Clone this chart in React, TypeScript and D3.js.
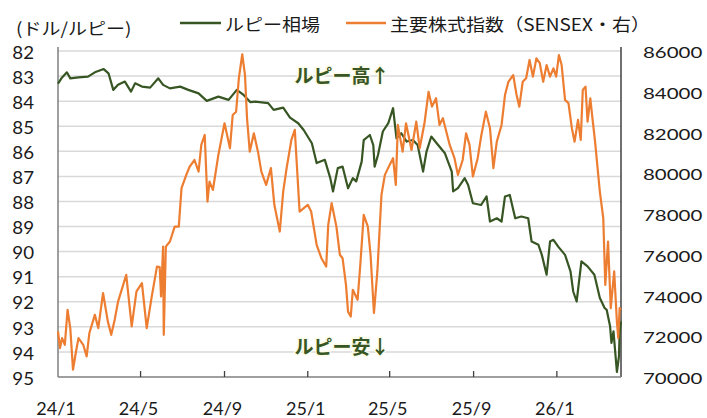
import React, { useEffect, useRef } from 'react';
import * as d3 from 'd3';

// ルピー相場 (ドル/ルピー, left axis, inverted)
const rupeeDates = [
  '2024-01-01', '2024-01-06', '2024-01-14', '2024-01-19', '2024-01-31', '2024-02-14', '2024-02-24',
  '2024-03-08', '2024-03-15', '2024-03-22', '2024-03-29', '2024-04-08', '2024-04-17', '2024-04-23',
  '2024-05-03', '2024-05-15', '2024-05-27', '2024-06-03', '2024-06-13', '2024-06-28', '2024-07-10',
  '2024-07-25', '2024-08-06', '2024-08-23', '2024-09-07', '2024-09-19', '2024-09-29', '2024-10-09',
  '2024-10-16', '2024-11-04', '2024-11-12', '2024-11-26', '2024-12-06', '2024-12-18', '2024-12-26',
  '2025-01-07', '2025-01-14', '2025-01-26', '2025-02-03', '2025-02-07', '2025-02-14', '2025-02-21',
  '2025-03-01', '2025-03-08', '2025-03-13', '2025-03-21', '2025-03-24', '2025-04-02', '2025-04-07',
  '2025-04-09', '2025-04-14', '2025-04-21', '2025-04-29', '2025-05-06', '2025-05-11', '2025-05-18',
  '2025-05-26', '2025-06-04', '2025-06-11', '2025-06-19', '2025-06-24', '2025-07-01', '2025-07-11',
  '2025-07-21', '2025-07-31', '2025-08-02', '2025-08-09', '2025-08-19', '2025-08-24', '2025-08-31',
  '2025-09-12', '2025-09-20', '2025-09-25', '2025-10-05', '2025-10-12', '2025-10-17', '2025-10-24',
  '2025-11-01', '2025-11-10', '2025-11-20', '2025-11-25', '2025-12-05', '2025-12-10', '2025-12-17',
  '2025-12-22', '2025-12-27', '2026-01-03', '2026-01-13', '2026-01-21', '2026-01-25', '2026-01-30',
  '2026-02-06', '2026-02-15', '2026-02-25', '2026-03-05', '2026-03-12', '2026-03-15', '2026-03-20',
  '2026-03-22', '2026-03-25', '2026-03-30', '2026-04-02', '2026-04-03', '2026-04-05',
];
const rupeeValues = [
  83.30, 83.09, 82.85, 83.09, 83.05, 83.02, 82.85,
  82.72, 82.89, 83.55, 83.35, 83.22, 83.62, 83.29,
  83.42, 83.46, 83.09, 83.35, 83.49, 83.42, 83.55,
  83.69, 83.99, 83.82, 83.95, 83.55, 83.75, 84.04,
  84.02, 84.08, 84.35, 84.26, 84.66, 84.88, 85.15,
  85.68, 86.47, 86.34, 87.07, 87.60, 86.67, 86.61,
  87.47, 87.07, 87.20, 86.41, 85.55, 85.35, 85.75,
  86.61, 86.14, 85.21, 84.88, 84.28, 85.48, 85.28,
  85.61, 85.55, 85.75, 86.81, 86.01, 85.41, 85.75,
  86.08, 86.81, 87.60, 87.47, 87.07, 87.34, 88.07,
  88.14, 87.80, 88.80, 88.67, 88.80, 87.80, 87.74,
  88.67, 88.60, 88.67, 89.60, 89.73, 90.13, 90.92,
  89.60, 89.53, 89.80, 90.13, 90.79, 91.59, 91.99,
  90.39, 90.59, 90.92, 91.85, 92.25, 92.32, 92.98,
  93.64, 93.18, 94.80, 94.18, 93.24, 92.78,
];

// 主要株式指数 (SENSEX, right axis)
const sensexDates = [
  '2024-01-01', '2024-01-04', '2024-01-07', '2024-01-11', '2024-01-15', '2024-01-19', '2024-01-23',
  '2024-01-27', '2024-01-31', '2024-02-07', '2024-02-12', '2024-02-16', '2024-02-24', '2024-02-29',
  '2024-03-07', '2024-03-14', '2024-03-19', '2024-03-24', '2024-03-29', '2024-04-10', '2024-04-18',
  '2024-04-25', '2024-05-03', '2024-05-10', '2024-05-17', '2024-05-25', '2024-05-29', '2024-05-31',
  '2024-06-03', '2024-06-04', '2024-06-07', '2024-06-13', '2024-06-20', '2024-06-26', '2024-06-30',
  '2024-07-07', '2024-07-12', '2024-07-19', '2024-07-25', '2024-07-29', '2024-08-03', '2024-08-07',
  '2024-08-10', '2024-08-15', '2024-08-23', '2024-09-01', '2024-09-09', '2024-09-13', '2024-09-18',
  '2024-09-22', '2024-09-27', '2024-10-01', '2024-10-04', '2024-10-08', '2024-10-14', '2024-10-20',
  '2024-10-25', '2024-11-01', '2024-11-08', '2024-11-13', '2024-11-21', '2024-11-26', '2024-12-01',
  '2024-12-08', '2024-12-13', '2024-12-20', '2025-01-01', '2025-01-06', '2025-01-14', '2025-01-21',
  '2025-01-28', '2025-01-31', '2025-02-05', '2025-02-12', '2025-02-17', '2025-02-21', '2025-02-26',
  '2025-03-01', '2025-03-05', '2025-03-08', '2025-03-15', '2025-03-19', '2025-03-24', '2025-03-30',
  '2025-04-03', '2025-04-08', '2025-04-13', '2025-04-19', '2025-04-24', '2025-05-01', '2025-05-06',
  '2025-05-10', '2025-05-13', '2025-05-20', '2025-05-25', '2025-06-02', '2025-06-09', '2025-06-14',
  '2025-06-21', '2025-06-27', '2025-07-02', '2025-07-08', '2025-07-13', '2025-07-18', '2025-07-28',
  '2025-08-04', '2025-08-09', '2025-08-16', '2025-08-21', '2025-08-26', '2025-08-31', '2025-09-07',
  '2025-09-12', '2025-09-19', '2025-09-25', '2025-09-30', '2025-10-05', '2025-10-12', '2025-10-17',
  '2025-10-22', '2025-10-29', '2025-11-03', '2025-11-07', '2025-11-12', '2025-11-17', '2025-11-22',
  '2025-11-27', '2025-12-02', '2025-12-07', '2025-12-12', '2025-12-17', '2025-12-22', '2025-12-27',
  '2025-12-31', '2026-01-04', '2026-01-08', '2026-01-13', '2026-01-18', '2026-01-23', '2026-01-27',
  '2026-02-01', '2026-02-05', '2026-02-08', '2026-02-12', '2026-02-15', '2026-02-19', '2026-02-23',
  '2026-02-26', '2026-03-05', '2026-03-10', '2026-03-13', '2026-03-17', '2026-03-21', '2026-03-26',
  '2026-03-30', '2026-04-01', '2026-04-03', '2026-04-05',
];
const sensexValues = [
  72240, 71420, 71910, 71580, 73300, 72400, 70360,
  71180, 71910, 71580, 71010, 72160, 73050, 72400,
  74120, 72730, 72070, 72800, 73700, 75010, 72480,
  74200, 74610, 72400, 73870, 75420, 75400, 73950,
  76400, 72070, 76400, 76650, 77380, 77380, 79270,
  79920, 80330, 80650, 80080, 81390, 81880, 78610,
  79590, 79180, 80900, 82450, 81230, 82860, 83020,
  84660, 85840, 84820, 82700, 81060, 81960, 81060,
  80080, 79430, 80250, 78450, 77140, 79100, 80250,
  81640, 82130, 78120, 78450, 78120, 76490, 75830,
  75420, 77470, 78530, 77380, 76000, 75830, 74520,
  73210, 72970, 74280, 73790, 75510, 77960, 77380,
  76000, 73140, 75180, 78940, 79920, 80410, 80740,
  79430, 82370, 81060, 82450, 81140, 82530, 81230,
  82450, 84000, 83270, 83680, 82370, 82700, 81390,
  80740, 79920, 80650, 81960, 81390, 79840, 80740,
  81800, 83020, 82210, 80250, 81550, 82370, 83840,
  84490, 84820, 83840, 83270, 84490, 84660, 85560,
  84740, 85640, 85400, 84490, 85310, 84740, 85150,
  84740, 85800, 85310, 83600, 83440, 82210, 81550,
  82620, 81640, 84090, 84250, 82530, 83680, 82450,
  81550, 79100, 77800, 74520, 76650, 73380, 75180,
  72720, 71910, 73380, 73300,
];

const xTickDates = ['2024-01-01', '2024-05-01', '2024-09-01', '2025-01-01', '2025-05-01', '2025-09-01', '2026-01-01'];
const xTickLabels = ['24/1', '24/5', '24/9', '25/1', '25/5', '25/9', '26/1'];
const rupeeTicks = [82, 83, 84, 85, 86, 87, 88, 89, 90, 91, 92, 93, 94, 95];
const sensexTicks = [70000, 72000, 74000, 76000, 78000, 80000, 82000, 84000, 86000];
const xDomain = ['2024-01-01', '2026-04-05'];

const GREEN = '#375623';
const ORANGE = '#ED7D31';
const FONT = '"Noto Sans CJK JP", "Noto Sans", sans-serif';
const NUM_FONT = 'Lato, "Open Sans", sans-serif';

export default function App() {
  const ref = useRef<SVGSVGElement>(null);

  useEffect(() => {
    const width = 707, height = 418;
    const margin = { top: 51, right: 86, bottom: 41, left: 58 };
    const parse = d3.timeParse('%Y-%m-%d');

    const svg = d3.select(ref.current);
    svg.selectAll('*').remove();

    const x = d3.scaleTime()
      .domain(xDomain.map(d => parse(d) as Date))
      .range([margin.left, width - margin.right]);
    const yL = d3.scaleLinear().domain([82, 95]).range([margin.top, height - margin.bottom]);
    const yR = d3.scaleLinear().domain([70000, 86000]).range([height - margin.bottom, margin.top]);

    // gridlines
    svg.append('g')
      .selectAll('line')
      .data(rupeeTicks.slice(0, -1))
      .enter().append('line')
      .attr('x1', margin.left).attr('x2', width - margin.right)
      .attr('y1', d => yL(d)).attr('y2', d => yL(d))
      .attr('stroke', '#d9d9d9').attr('stroke-width', 1.5);

    // axis lines
    const axisColor = '#7f7f7f';
    svg.append('line')
      .attr('x1', margin.left).attr('x2', margin.left)
      .attr('y1', margin.top - 4).attr('y2', height - margin.bottom)
      .attr('stroke', axisColor).attr('stroke-width', 1.5);
    svg.append('line')
      .attr('x1', width - margin.right).attr('x2', width - margin.right)
      .attr('y1', margin.top - 4).attr('y2', height - margin.bottom)
      .attr('stroke', '#404040').attr('stroke-width', 1.5);
    svg.append('line')
      .attr('x1', margin.left).attr('x2', width - margin.right)
      .attr('y1', height - margin.bottom).attr('y2', height - margin.bottom)
      .attr('stroke', axisColor).attr('stroke-width', 1.5);

    // x ticks (inward)
    svg.append('g')
      .selectAll('line')
      .data(xTickDates.slice(1))
      .enter().append('line')
      .attr('x1', d => x(parse(d) as Date)).attr('x2', d => x(parse(d) as Date))
      .attr('y1', height - margin.bottom).attr('y2', height - margin.bottom - 6)
      .attr('stroke', '#404040').attr('stroke-width', 1.3);

    // tick labels
    const textColor = '#1a1a1a';
    svg.append('g')
      .selectAll('text')
      .data(rupeeTicks)
      .enter().append('text')
      .attr('transform', d => `translate(34,${yL(d) + 1}) scale(1.1,1)`)
      .attr('text-anchor', 'end').attr('dominant-baseline', 'central')
      .attr('font-family', NUM_FONT).attr('font-size', 17).attr('fill', textColor)
      .text(d => d);

    svg.append('g')
      .selectAll('text')
      .data(sensexTicks)
      .enter().append('text')
      .attr('transform', d => `translate(643,${yR(d) + 1}) scale(1.28,1)`)
      .attr('text-anchor', 'start').attr('dominant-baseline', 'central')
      .attr('font-family', NUM_FONT).attr('font-size', 16).attr('fill', textColor)
      .text(d => d);

    svg.append('g')
      .selectAll('text')
      .data(xTickDates)
      .enter().append('text')
      .attr('transform', d => `translate(${x(parse(d) as Date) - 2},408)`)
      .attr('text-anchor', 'middle').attr('dominant-baseline', 'central')
      .attr('font-family', NUM_FONT).attr('font-size', 18).attr('fill', textColor)
      .text((d, i) => xTickLabels[i]);

    // lines
    const rupeeData = rupeeDates.map((d, i) => ({ date: parse(d) as Date, v: rupeeValues[i] }));
    const sensexData = sensexDates.map((d, i) => ({ date: parse(d) as Date, v: sensexValues[i] }));

    svg.append('path')
      .datum(rupeeData)
      .attr('fill', 'none').attr('stroke', GREEN).attr('stroke-width', 2.2)
      .attr('stroke-linejoin', 'round')
      .attr('d', d3.line<any>().x(d => x(d.date)).y(d => yL(d.v)));

    svg.append('path')
      .datum(sensexData)
      .attr('fill', 'none').attr('stroke', ORANGE).attr('stroke-width', 2.2)
      .attr('stroke-linejoin', 'round')
      .attr('d', d3.line<any>().x(d => x(d.date)).y(d => yR(d.v)));

    // title + legend
    svg.append('text')
      .attr('transform', 'translate(16,27) scale(1.12,1)')
      .attr('dominant-baseline', 'central')
      .attr('font-family', FONT).attr('font-size', 17).attr('fill', textColor)
      .text('(ドル/ルピー)');

    const legend = [
      { label: 'ルピー相場', color: GREEN, x0: 180, x1: 221, tx: 225 },
      { label: '主要株式指数（SENSEX・右）', color: ORANGE, x0: 346, x1: 386, tx: 390 },
    ];
    const lg = svg.append('g');
    legend.forEach(l => {
      lg.append('line')
        .attr('x1', l.x0).attr('x2', l.x1).attr('y1', 23).attr('y2', 23)
        .attr('stroke', l.color).attr('stroke-width', 2.5);
      lg.append('text')
        .attr('transform', `translate(${l.tx},23) scale(1.12,1)`)
        .attr('dominant-baseline', 'central')
        .attr('font-family', FONT).attr('font-size', 17).attr('fill', textColor)
        .text(l.label);
    });

    // annotations
    [{ t: 'ルピー高↑', y: 74 }, { t: 'ルピー安↓', y: 345 }].forEach(a => {
      svg.append('text')
        .attr('x', 342).attr('y', a.y)
        .attr('text-anchor', 'middle').attr('dominant-baseline', 'central')
        .attr('font-family', FONT).attr('font-size', 19).attr('font-weight', 'bold')
        .attr('fill', GREEN)
        .attr('stroke', '#fbfbe8').attr('stroke-width', 3).attr('paint-order', 'stroke')
        .text(a.t);
    });
  }, []);

  return (
    <svg
      ref={ref}
      width={707}
      height={418}
      style={{ position: 'absolute', left: 0, top: 0, background: '#fff' }}
    />
  );
}
